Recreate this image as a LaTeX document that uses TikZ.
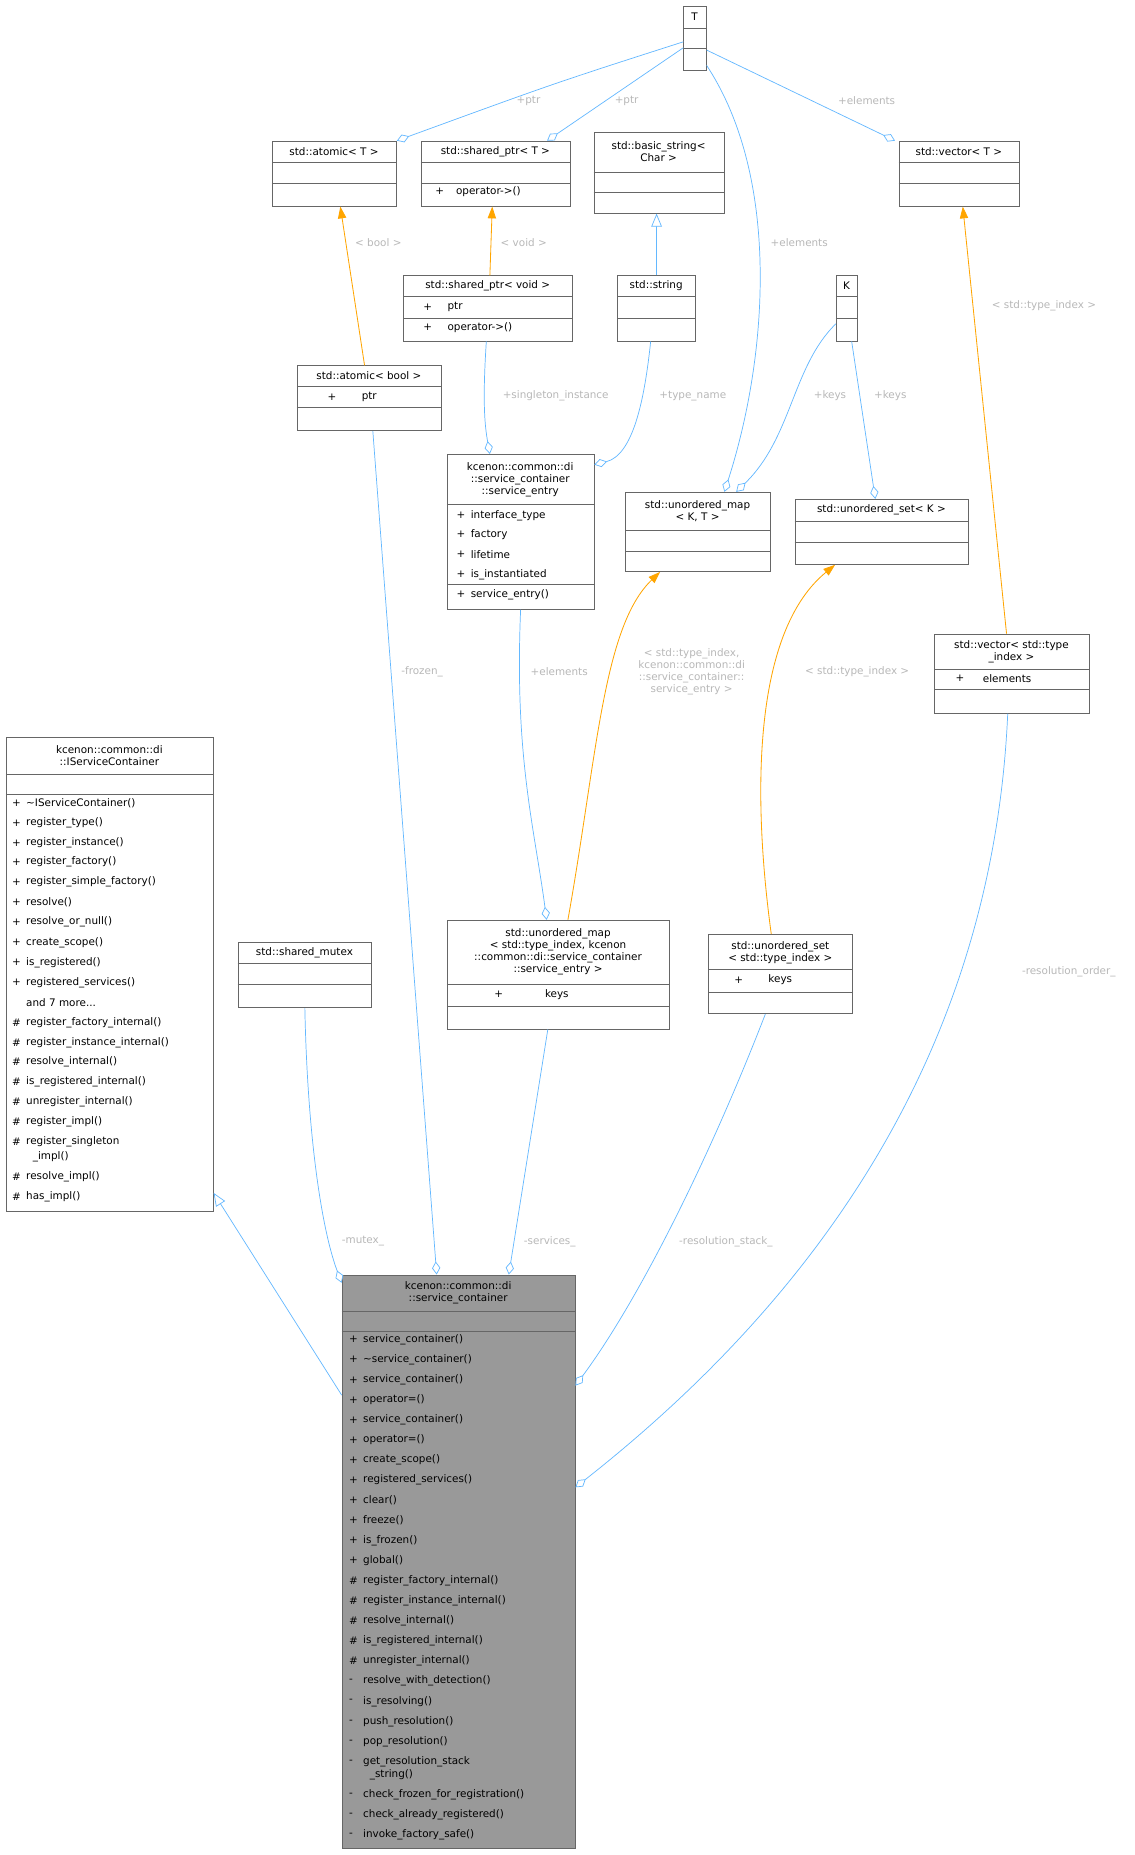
\documentclass[tikz,border=0pt]{standalone}
\usepackage{fontspec}
\setmainfont{DejaVu Sans}
\usetikzlibrary{arrows.meta}
\definecolor{blue1}{HTML}{63B8FF}
\definecolor{orange1}{HTML}{FFA500}
\definecolor{lab1}{HTML}{B8B8B8}
\begin{document}
\begin{tikzpicture}[x=1pt,y=-1pt,font=\fontsize{8.8}{10}\selectfont,
 box/.style={draw=black!60,line width=0.7pt,inner sep=0,anchor=north west},
 t/.style={inner sep=0,anchor=west},
 tc/.style={inner sep=0,align=center},
 lab/.style={text=lab1,inner sep=1pt,align=center},
 agg/.style={draw=blue1,line width=0.6pt,-{Diamond[open,length=11pt,width=7pt,fill=white]}},
 tmpl/.style={draw=orange1,line width=0.7pt,-{Triangle[length=10pt,width=7pt]}},
 inh/.style={draw=blue1,line width=0.6pt,-{Triangle[open,length=11pt,width=9pt,fill=white]}}]
\newcommand\bx[6]{\node[box,minimum width=#4pt,minimum height=#5pt,#6] (#1) at (#2,#3) {};}
\newcommand\sep[3]{\draw[draw=black!60,line width=0.7pt] (#1,#3) -- ++(#2,0);}
\newcommand\rw[4]{\node[t] at (#1,#2) {#3}; \node[t] at (#1+12,#2) {#4};}
\path[use as bounding box,fill=white] (0,0) rectangle (960,1569);

% boxes
\bx{T}{578}{5}{19}{54}{} \sep{578}{19}{24}\sep{578}{19}{41}
\node[tc] at (587.5,14) {T};
\bx{atomicT}{230}{119}{105}{55}{} \sep{230}{105}{137}\sep{230}{105}{155}
\node[tc] at (282.5,128) {std::atomic< T >};
\bx{sharedT}{356}{119}{126}{55}{} \sep{356}{126}{137}\sep{356}{126}{155}
\node[tc] at (419,128) {std::shared\_ptr< T >};
\rw{368}{162}{+}{\ \ operator->()}
\bx{basic}{502}{112}{110}{68}{} \sep{502}{110}{146}\sep{502}{110}{163}
\node[tc] at (557,128.5) {std::basic\_string<\\Char >};
\bx{vecT}{760}{119}{102}{55}{} \sep{760}{102}{137}\sep{760}{102}{155}
\node[tc] at (811,128) {std::vector< T >};
\bx{sharedVoid}{341}{233}{143}{55}{} \sep{341}{143}{251}\sep{341}{143}{269}
\node[tc] at (412.5,242) {std::shared\_ptr< void >};
\rw{358}{260}{+}{\ \ \ ptr}
\rw{358}{277}{+}{\ \ \ operator->()}
\bx{string}{522}{233}{66}{55}{} \sep{522}{66}{251}\sep{522}{66}{269}
\node[tc] at (555,242) {std::string};
\bx{K}{707}{233}{18}{55}{} \sep{707}{18}{251}\sep{707}{18}{269}
\node[tc] at (716,242) {K};
\bx{atomicBool}{251}{309}{122}{55}{} \sep{251}{122}{327}\sep{251}{122}{345}
\node[tc] at (312,318) {std::atomic< bool >};
\rw{277}{336}{+}{\ \ \ \ \ \ ptr}
\bx{entry}{378}{384}{124}{131}{} \sep{378}{124}{427}\sep{378}{124}{494}
\node[tc] at (440,406) {kcenon::common::di\\::service\_container\\::service\_entry};
\rw{386}{436}{+}{interface\_type}
\rw{386}{452}{+}{factory}
\rw{386}{469}{+}{lifetime}
\rw{386}{486}{+}{is\_instantiated}
\rw{386}{503}{+}{service\_entry()}
\bx{umapKT}{529}{416}{122}{67}{} \sep{529}{122}{449}\sep{529}{122}{466}
\node[tc] at (590,432.5) {std::unordered\_map\\< K, T >};
\bx{usetK}{672}{422}{147}{55}{} \sep{672}{147}{441}\sep{672}{147}{459}
\node[tc] at (745.5,431) {std::unordered\_set< K >};
\bx{vecIdx}{790}{536}{131}{67}{} \sep{790}{131}{566}\sep{790}{131}{583}
\node[tc] at (855.5,551) {std::vector< std::type\\\_index >};
\rw{808}{574}{+}{\ \ \ \ elements}
\bx{ISC}{5}{623}{175}{401}{} \sep{5}{175}{655}\sep{5}{175}{672}
\node[tc] at (92.5,639) {kcenon::common::di\\::IServiceContainer};
\rw{10}{679}{+}{\textasciitilde IServiceContainer()}
\rw{10}{696}{+}{register\_type()}
\rw{10}{713}{+}{register\_instance()}
\rw{10}{729}{+}{register\_factory()}
\rw{10}{746}{+}{register\_simple\_factory()}
\rw{10}{763}{+}{resolve()}
\rw{10}{780}{+}{resolve\_or\_null()}
\rw{10}{797}{+}{create\_scope()}
\rw{10}{814}{+}{is\_registered()}
\rw{10}{831}{+}{registered\_services()}
\rw{10}{848}{}{and 7 more...}
\rw{10}{865}{\#}{register\_factory\_internal()}
\rw{10}{882}{\#}{register\_instance\_internal()}
\rw{10}{898}{\#}{resolve\_internal()}
\rw{10}{915}{\#}{is\_registered\_internal()}
\rw{10}{932}{\#}{unregister\_internal()}
\rw{10}{949}{\#}{register\_impl()}
\rw{10}{966}{\#}{register\_singleton}
\rw{10}{978}{}{\ \ \_impl()}
\rw{10}{995}{\#}{resolve\_impl()}
\rw{10}{1012}{\#}{has\_impl()}
\bx{mutex}{201}{797}{113}{55}{} \sep{201}{113}{815}\sep{201}{113}{833}
\node[tc] at (257.5,806) {std::shared\_mutex};
\bx{umapIdx}{378}{778}{188}{92}{} \sep{378}{188}{833}\sep{378}{188}{851}
\node[tc] at (472,805) {std::unordered\_map\\< std::type\_index, kcenon\\::common::di::service\_container\\::service\_entry >};
\rw{418}{841}{+}{\ \ \ \ \ \ \ \ \ \ \ keys}
\bx{usetIdx}{599}{790}{122}{67}{} \sep{599}{122}{820}\sep{599}{122}{839}
\node[tc] at (660,806) {std::unordered\_set\\< std::type\_index >};
\rw{621}{829}{+}{\ \ \ \ \ \ keys}
\bx{sc}{289}{1078}{197}{485}{fill=black!40}
\sep{289}{197}{1109}\sep{289}{197}{1126}
\node[tc] at (387.5,1093.5) {kcenon::common::di\\::service\_container};
\foreach \s/\n [count=\k from 0] in {+/service\_container(),+/\textasciitilde service\_container(),+/service\_container(),+/operator=(),+/service\_container(),+/operator=(),+/create\_scope(),+/registered\_services(),+/clear(),+/freeze(),+/is\_frozen(),+/global(),\#/register\_factory\_internal(),\#/register\_instance\_internal(),\#/resolve\_internal(),\#/is\_registered\_internal(),\#/unregister\_internal(),-/resolve\_with\_detection(),-/is\_resolving(),-/push\_resolution(),-/pop\_resolution(),-/get\_resolution\_stack}
 {\rw{295}{1133+17*\k}{\s}{\n}}
\rw{295}{1501}{}{\ \ \_string()}
\rw{295}{1518}{-}{check\_frozen\_for\_registration()}
\rw{295}{1535}{-}{check\_already\_registered()}
\rw{295}{1552}{-}{invoke\_factory\_safe()}

% connectors
\draw[agg] ([yshift=-3pt]T.west) .. controls (470,70) .. (atomicT.north east);
\node[lab] at (447,85) {+ptr};
\draw[agg] ([yshift=-8pt]T.west) -- ([xshift=-20pt]sharedT.north east);
\node[lab] at (530,85) {+ptr};
\draw[agg] ([yshift=-10pt]T.east) -- ([xshift=-3pt]vecT.north west);
\node[lab] at (733,85) {+elements};
\draw[agg] ([yshift=-23pt]T.east) .. controls (660,150) and (650,300) .. ([xshift=-39pt]umapKT.north east);
\node[lab] at (676,205) {+elements};
\draw[agg] ([yshift=-13pt]K.west) .. controls (670,310) and (670,370) .. ([xshift=-29pt]umapKT.north east);
\node[lab] at (702,335) {+keys};
\draw[agg] ([xshift=4pt]K.south) -- ([xshift=-5.5pt]usetK.north);
\node[lab] at (753,335) {+keys};
\draw[inh] (string.north) -- (string.north |- basic.south);
\draw[tmpl] ([xshift=-4pt]atomicBool.north) -- ([xshift=5pt]atomicT.south);
\node[lab] at (320,205) {< bool >};
\draw[tmpl] ([xshift=1.5pt]sharedVoid.north) -- ([xshift=-3pt]sharedT.south);
\node[lab] at (443,205) {< void >};
\draw[agg] ([xshift=-1.5pt]sharedVoid.south) .. controls (408,340) and (410,360) .. ([xshift=-26pt]entry.north);
\node[lab] at (470,335) {+singleton\_instance};
\draw[agg] ([xshift=-5pt]string.south) .. controls (545,340) and (535,385) .. ([yshift=-9pt]entry.north east);
\node[lab] at (586,335) {+type\_name};
\draw[tmpl] ([xshift=-4.5pt]vecIdx.north) -- ([xshift=3pt]vecT.south);
\node[lab] at (883,259) {< std::type\_index >};
\draw[tmpl] ([xshift=8pt]umapIdx.north) .. controls (505,640) and (510,530) .. ([xshift=-32pt]umapKT.south);
\node[lab] at (585,568) {< std::type\_index,\\kcenon::common::di\\::service\_container::\\service\_entry >};
\draw[tmpl] ([xshift=-8pt]usetIdx.north) .. controls (640,700) and (630,540) .. ([xshift=-39.5pt]usetK.south);
\node[lab] at (725,568) {< std::type\_index >};
\draw[agg] (entry.south) .. controls (435,640) and (452,700) .. ([xshift=-10pt]umapIdx.north);
\node[lab] at (473,568) {+elements};
\draw[agg] ([xshift=3pt]atomicBool.south) -- ([xshift=-18.5pt]sc.north);
\node[lab] at (357,568) {-frozen\_};
\draw[agg] (mutex.south) .. controls (260,960) and (272,1040) .. ([yshift=-7pt]sc.north west);
\node[lab] at (307,1050) {-mutex\_};
\draw[agg] ([xshift=-9pt]umapIdx.south) -- ([xshift=42.5pt]sc.north);
\node[lab] at (465,1050) {-services\_};
\draw[agg] ([xshift=-13pt]usetIdx.south) .. controls (600,980) and (540,1100) .. ([yshift=-94pt]sc.north east);
\node[lab] at (614,1050) {-resolution\_stack\_};
\draw[agg] ([xshift=-3.5pt]vecIdx.south) .. controls (840,880) and (700,1090) .. ([yshift=-180pt]sc.north east);
\node[lab] at (904,822) {-resolution\_order\_};
\draw[inh] ([yshift=-102pt]sc.north west) -- ([yshift=-386pt]ISC.north east);
\end{tikzpicture}
\end{document}
